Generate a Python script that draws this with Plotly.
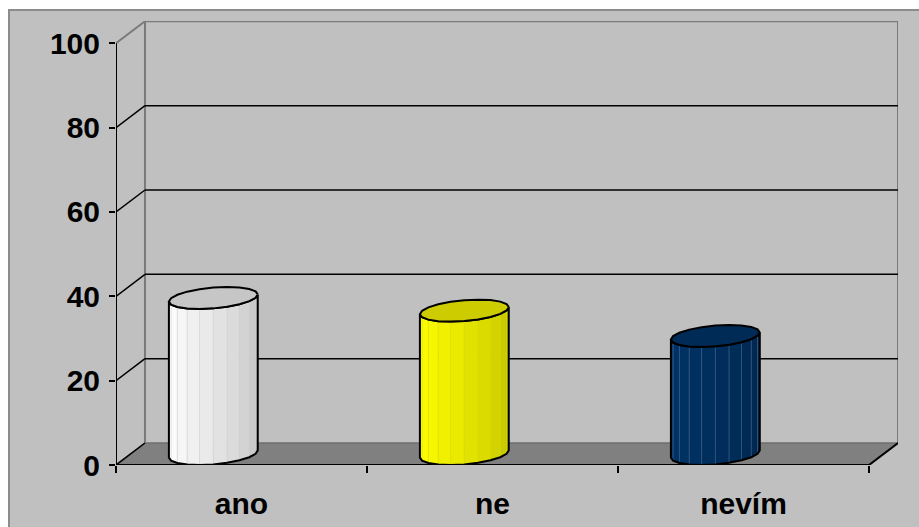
import numpy as np
import plotly.graph_objects as go

# ---- data ----
categories = ["ano", "ne", "nevím"]
values = [37, 34, 28]
y_ticks = [0, 20, 40, 60, 80, 100]
body_colors = ["#ffffff", "#ffff00", "#003366"]
top_colors = ["#c6c6c6", "#cccc00", "#002b57"]
stripe_colors = ["#d0d0d0", "#dcdc00", "#4d6f99"]

# ---- geometry / style constants ----
W, H = 919, 527
ML, MR, MT, MB = 116, 21, 21, 62
X_MAX = 3.1155          # x-range (category units)
Y_MAX = 105.29          # y-range (value units)
DX, DY = 0.1155, 5.217  # 3-D depth offset in data units
RX = 0.1673             # cylinder radius along x (category units)
CX_OFF = 0.330          # front-plane centre of a cylinder inside its category
NFACET = 20
FONT = "Arial, Liberation Sans, sans-serif"

px_per_x = (W - ML - MR) / X_MAX
px_per_y = (H - MT - MB) / Y_MAX

fig = go.Figure()

def hex2rgb(h):
    h = h.lstrip("#")
    return np.array([int(h[i:i + 2], 16) for i in (0, 2, 4)], dtype=float)

def rgb2hex(c):
    c = np.clip(np.round(c), 0, 255).astype(int)
    return "#%02x%02x%02x" % tuple(c)

# ---- cylinders ----
theta_r = np.arctan2((DX / 2) * px_per_x, RX * px_per_x)
for i, (cat, v) in enumerate(zip(categories, values)):
    cxf = i + CX_OFF
    th = theta_r - np.arange(NFACET + 1) * 2 * np.pi / NFACET

    def pt(t, base):
        x = cxf + DX / 2 + RX * np.cos(t) + (DX / 2) * np.sin(t)
        y = base + DY / 2 + (DY / 2) * np.sin(t)
        return x, y

    half = NFACET // 2
    front = th[:half + 1][::-1]  # from leftmost to rightmost
    base_rgb = hex2rgb(body_colors[i])
    nf = len(front) - 1
    for j in range(nf):
        t0, t1 = front[j], front[j + 1]
        s = j / (nf - 1)
        f = 1.0 - 0.24 * s ** 1.3
        col = rgb2hex(base_rgb * f)
        xb0, yb0 = pt(t0, 0)
        xb1, yb1 = pt(t1, 0)
        xt0, yt0 = pt(t0, v)
        xt1, yt1 = pt(t1, v)
        fig.add_trace(go.Scatter(
            x=[xb0, xb1, xt1, xt0, xb0], y=[yb0, yb1, yt1, yt0, yb0],
            fill="toself", fillcolor=col, mode="lines",
            line=dict(width=0.6, color=col), hoverinfo="skip", showlegend=False))
        if j > 0:
            fig.add_trace(go.Scatter(
                x=[xb0, xt0], y=[yb0, yt0], mode="lines",
                line=dict(width=0.6, color=stripe_colors[i]),
                hoverinfo="skip", showlegend=False))
    # body outline
    bx, by = pt(front, 0)
    tx, ty = pt(front, v)
    ox = np.concatenate([tx[:1], bx, tx[::-1]])
    oy = np.concatenate([ty[:1], by, ty[::-1]])
    fig.add_trace(go.Scatter(x=ox, y=oy, mode="lines",
                             line=dict(width=2, color="black"),
                             hoverinfo="skip", showlegend=False))
    # top
    ax, ay = pt(th, v)
    fig.add_trace(go.Scatter(x=ax, y=ay, fill="toself", fillcolor=top_colors[i],
                             mode="lines", line=dict(width=2, color="black"),
                             hoverinfo="skip", showlegend=False))

# ---- frame shapes ----
shapes = []
def to_px_paper_x(px):
    return (px - ML) / (W - ML - MR)
def to_px_paper_y(py):
    return (H - MB - py) / (H - MT - MB)

# chart area (silver) with gray border
shapes.append(dict(type="rect", xref="paper", yref="paper",
                   x0=to_px_paper_x(9), x1=to_px_paper_x(W + 10),
                   y0=to_px_paper_y(H + 10), y1=to_px_paper_y(10),
                   fillcolor="#c0c0c0", line=dict(color="#8c8c8c", width=2),
                   layer="below"))
# floor
shapes.append(dict(type="path", xref="x", yref="y",
                   path=f"M 0,0 L 3,0 L {3+DX},{DY} L {DX},{DY} Z",
                   fillcolor="#808080", line=dict(color="#6e6e6e", width=1.5),
                   layer="below"))
gray = "#7a7a7a"
def line(x0, y0, x1, y1, color, width):
    shapes.append(dict(type="line", xref="x", yref="y", x0=x0, y0=y0, x1=x1, y1=y1,
                       line=dict(color=color, width=width), layer="below"))
# back wall edges
line(DX, DY, DX, 100 + DY, gray, 2)
line(DX, 100 + DY, 3 + DX, 100 + DY, gray, 2)
line(3 + DX, DY, 3 + DX, 100 + DY, gray, 2)
line(0, 100, DX, 100 + DY, gray, 2)
# gridlines
for v in y_ticks[1:-1]:
    line(DX, v + DY, 3 + DX, v + DY, "black", 1.5)
    line(0, v, DX, v + DY, "black", 1.5)
line(0, 0, DX, DY, "black", 1.5)
# front floor edges & axis line
line(0, 0, 3, 0, "black", 2)
line(3, 0, 3 + DX, DY, "black", 2)
line(0, 0, 0, 100, "black", 2)

fig.update_layout(
    width=W, height=H,
    margin=dict(l=ML, r=MR, t=MT, b=MB, autoexpand=False),
    paper_bgcolor="white", plot_bgcolor="rgba(0,0,0,0)",
    shapes=shapes, showlegend=False,
    xaxis=dict(range=[0, X_MAX], tickvals=[0, 1, 2, 3], ticktext=["", "", "", ""],
               ticks="outside", ticklen=7, tickwidth=2, tickcolor="black",
               showgrid=False, zeroline=False, showline=False, fixedrange=True,
               automargin=False),
    xaxis2=dict(range=[0, X_MAX], overlaying="x", side="bottom", anchor="y",
                tickvals=[0.5, 1.5, 2.5], ticktext=categories, ticks="",
                showgrid=False, zeroline=False, showline=False,
                ticklabelstandoff=18, automargin=False,
                tickfont=dict(family=FONT, size=30, color="black", weight="bold")),
    yaxis=dict(range=[0, Y_MAX], tickvals=y_ticks, ticks="outside", ticklen=6,
               tickwidth=2, tickcolor="black", showgrid=False, zeroline=False,
               showline=False, ticklabelstandoff=3, automargin=False,
               tickfont=dict(family=FONT, size=30, color="black", weight="bold")),
)
# dummy trace to activate xaxis2
fig.add_trace(go.Scatter(x=[0.5], y=[-10], xaxis="x2", mode="markers",
                         marker=dict(opacity=0), hoverinfo="skip", showlegend=False))

fig.write_html("out.html")
